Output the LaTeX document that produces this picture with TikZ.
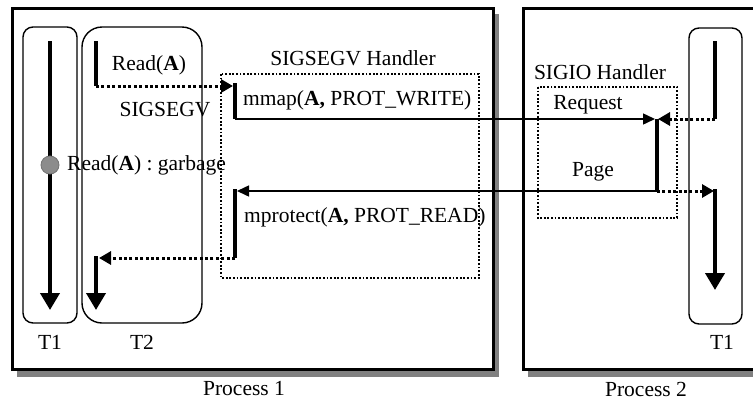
\documentclass[tikz,border=0pt]{standalone}
\usepackage{fontspec}
\setmainfont{Liberation Serif}
\usetikzlibrary{arrows.meta}
\begin{document}
\begin{tikzpicture}[x=1pt,y=-1pt,
  lbl/.style={font=\fontsize{21.5}{25}\selectfont, inner sep=0pt},
  procshadow/.style={fill=black!50, draw=none},
  procbox/.style={draw=black, line width=3pt, fill=white},
  thread/.style={draw=black, line width=1.4pt, rounded corners=#1},
  thread/.default=10pt,
  handler/.style={draw=black, line width=1.8pt, dash pattern=on 1.8pt off 1.8pt},
  bar/.style={line width=4pt},
  flow/.style={line width=4pt, -{Triangle[length=17pt,width=19pt]}},
  hop/.style={line width=3pt, dash pattern=on 3pt off 2.4pt, -{Triangle[length=12pt,width=13pt]}},
  msg/.style={line width=1.5pt, -{Triangle[length=12pt,width=11pt]}}
]
\useasboundingbox (0,0) rectangle (753,402);
\clip (0,0) rectangle (753,402);

% process frames with drop shadows
\fill[procshadow] (17,14) rectangle (499,377);
\node[procbox, minimum width=481pt, minimum height=361pt, inner sep=0pt, anchor=north west] (p1) at (11,7) {};
\fill[procshadow] (528,14) rectangle (780,377);
\node[procbox, minimum width=250pt, minimum height=361pt, inner sep=0pt, anchor=north west] (p2) at (522,7) {};
\node[lbl] (p1name) at (244,389) {Process 1};
\node[lbl] (p2name) at (646,389) {Process 2};

% thread boxes
\draw[thread] (23,27) rectangle (77,323);
\draw[thread=20pt] (82,27) rectangle (202,323);
\draw[thread] (689,28) rectangle (742,324);
\node[lbl] (t1a) at (50,342) {T1};
\node[lbl] (t2) at (142,342) {T2};
\node[lbl] (t1b) at (722,342) {T1};

% signal handler frames
\draw[handler] (221,74) rectangle (479,278);
\node[lbl] (segvh) at (353,58) {SIGSEGV Handler};
\draw[handler] (538,87) rectangle (677,218);
\node[lbl] (sigioh) at (600,72) {SIGIO Handler};

% anchor points of the control flow
\coordinate (a1) at (50,41);  \coordinate (a2) at (50,310);
\coordinate (b1) at (96,41);  \coordinate (b2) at (96,86);
\coordinate (c0) at (233,86); \coordinate (c1) at (235,83); \coordinate (c2) at (235,119);
\coordinate (d1) at (655,119);\coordinate (d2) at (658,119);
\coordinate (e1) at (715,41); \coordinate (e2) at (715,119);
\coordinate (f1) at (657,119);\coordinate (f2) at (657,191);
\coordinate (g1) at (237,191);\coordinate (g2) at (235,189);\coordinate (g3) at (235,258);
\coordinate (h1) at (99,258); \coordinate (h2) at (96,256); \coordinate (h3) at (96,310);
\coordinate (k1) at (714,191);\coordinate (k2) at (715,189);\coordinate (k3) at (715,290);

% thread T1 of process 1
\draw[flow] (a1) -- (a2);
\node[circle, fill=black!45, draw=black!55, line width=0.8pt, minimum size=18pt, inner sep=0pt] (fault) at (50,165) {};
\node[lbl, anchor=west] (garb) at (67,165) {Read(\textbf{A}) : garbage};

% thread T2 of process 1 and the fault handling
\draw[bar] (b1) -- (b2);
\node[lbl] (rd) at (149,65) {Read(\textbf{A})};
\node[lbl] (segv) at (165,110) {SIGSEGV};
\draw[hop] (b2) -- (c0);
\draw[bar] (c1) -- (c2);
\node[lbl, anchor=west] (mmap) at (243,100) {mmap(\textbf{A,} PROT\_WRITE)};
\draw[msg] (c2) -- (d1);
\node[lbl] (req) at (588,105) {Request};

% SIGIO side in process 2
\draw[bar] (e1) -- (e2);
\draw[hop] (e2) -- (d2);
\draw[bar] (f1) -- (f2);
\node[lbl] (page) at (593,172) {Page};
\draw[msg] (f2) -- (g1);
\draw[hop] (f2) -- (k1);
\draw[flow] (k2) -- (k3);

% back in process 1
\draw[bar] (g2) -- (g3);
\node[lbl, anchor=west] (mprot) at (244,217) {mprotect(\textbf{A,} PROT\_READ)};
\draw[hop] (g3) -- (h1);
\draw[flow] (h2) -- (h3);
\end{tikzpicture}
\end{document}
